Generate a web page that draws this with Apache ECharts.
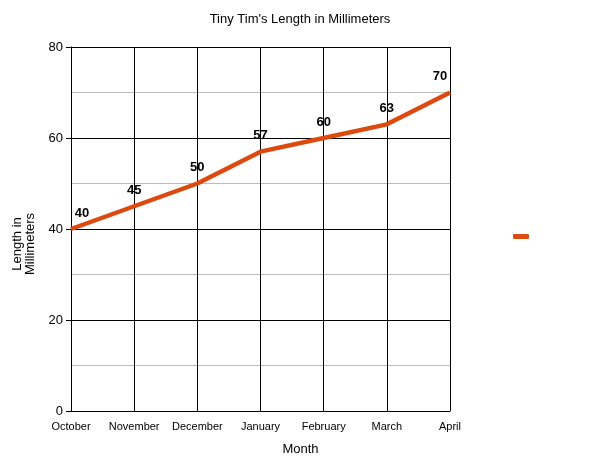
<!DOCTYPE html>
<html><head><meta charset="utf-8">
<script src="https://cdn.jsdelivr.net/npm/echarts@6/dist/echarts.min.js"></script>
<style>html,body{margin:0;padding:0;background:#fff}#c{width:600px;height:463px}</style>
</head><body><div id="c"></div>
<script>
const months = ['October','November','December','January','February','March','April'];
const lengths = [40, 45, 50, 57, 60, 63, 70];
const yTicks = [0, 20, 40, 60, 80];

const chart = echarts.init(document.getElementById('c'));
const lineColor = '#dc4a10';
const font = 'Liberation Sans, Arial, sans-serif';
chart.setOption({
  animation: false,
  backgroundColor: '#fff',
  textStyle: { fontFamily: font },
  title: {
    text: "Tiny Tim's Length in Millimeters",
    left: 'center', top: 8,
    textStyle: { fontSize: 13, fontWeight: 'normal', color: '#000', fontFamily: font }
  },
  legend: {
    left: 508, top: 229,
    icon: 'roundRect', itemWidth: 16, itemHeight: 5,
    formatter: () => '',
    data: ['Length']
  },
  grid: { left: 71, right: 150, top: 47, bottom: 52, containLabel: false },
  xAxis: {
    type: 'category', data: months, boundaryGap: false,
    name: 'Month', nameLocation: 'middle', nameGap: 32,
    nameTextStyle: { fontSize: 13, color: '#000', padding: [0, 0, 0, 80] },
    axisLine: { lineStyle: { color: '#000', width: 1 } },
    axisTick: { show: false },
    axisLabel: { fontSize: 11, color: '#000', margin: 10, interval: 0 },
    splitLine: { show: true, interval: 0, lineStyle: { color: '#000', width: 1 } }
  },
  yAxis: {
    type: 'value', min: yTicks[0], max: yTicks[yTicks.length - 1], interval: 20,
    name: 'Length in\nMillimeters', nameLocation: 'middle', nameGap: 34, nameRotate: 90,
    nameTextStyle: { fontSize: 13, color: '#000', lineHeight: 13, padding: [0, 0, 0, -30] },
    axisLine: { show: true, lineStyle: { color: '#000', width: 1 } },
    axisTick: { show: true, length: 5, lineStyle: { color: '#000' } },
    axisLabel: { fontSize: 13, color: '#000', margin: 8 },
    splitLine: { show: true, lineStyle: { color: '#000', width: 1 } },
    minorTick: { show: false, splitNumber: 2 },
    minorSplitLine: { show: true, lineStyle: { color: '#bbb', width: 1 } }
  },
  series: [{
    name: 'Length', type: 'line',
    data: lengths,
    symbol: 'circle', symbolSize: 1, showSymbol: true,
    lineStyle: { color: lineColor, width: 4.5 },
    itemStyle: { color: lineColor },
    label: { show: true, position: 'top', distance: 9, fontSize: 13, fontWeight: 'bold', color: '#000' },
    labelLayout: function (p) {
      const last = lengths.length - 1;
      return {
        hideOverlap: false,
        dx: p.dataIndex === 0 ? 11 : (p.dataIndex === last ? -10 : 0)
      };
    }
  }]
});
</script></body></html>
